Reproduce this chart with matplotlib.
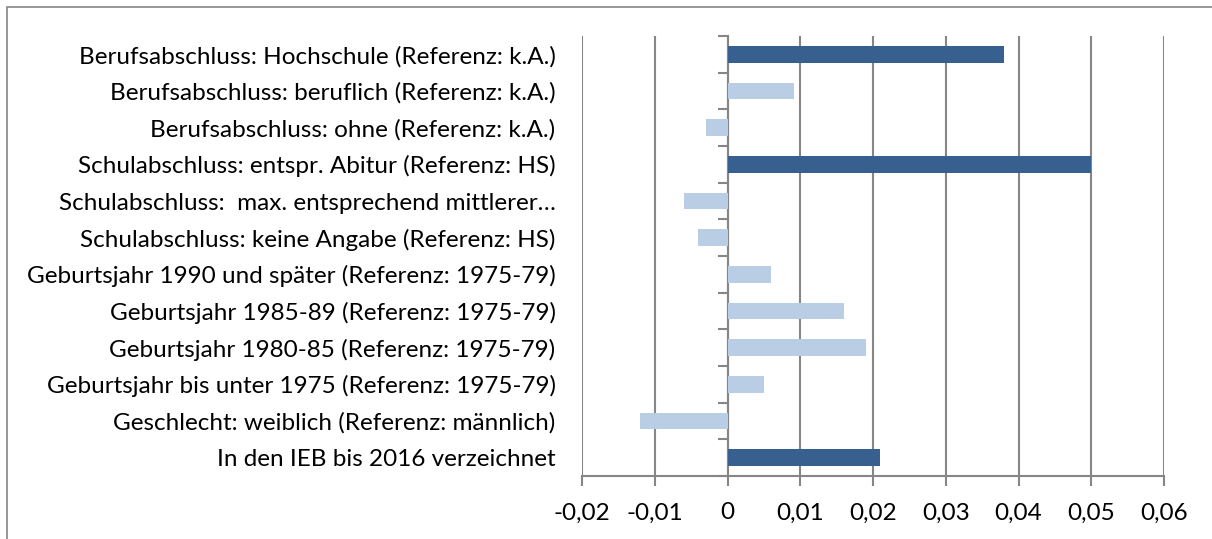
import matplotlib
matplotlib.use("Agg")
import matplotlib.pyplot as plt
from matplotlib.patches import Rectangle
from matplotlib.ticker import FixedLocator, FuncFormatter

# categories, top to bottom as in the chart
labels = [
    "Berufsabschluss: Hochschule (Referenz: k.A.)",
    "Berufsabschluss: beruflich (Referenz: k.A.)",
    "Berufsabschluss: ohne (Referenz: k.A.)",
    "Schulabschluss: entspr. Abitur (Referenz: HS)",
    "Schulabschluss:  max. entsprechend mittlerer\u2026",
    "Schulabschluss: keine Angabe (Referenz: HS)",
    "Geburtsjahr 1990 und später (Referenz: 1975-79)",
    "Geburtsjahr 1985-89 (Referenz: 1975-79)",
    "Geburtsjahr 1980-85 (Referenz: 1975-79)",
    "Geburtsjahr bis unter 1975 (Referenz: 1975-79)",
    "Geschlecht: weiblich (Referenz: männlich)",
    "In den IEB bis 2016 verzeichnet",
]
values = [0.038, 0.0091, -0.003, 0.050, -0.006, -0.004, 0.006, 0.016, 0.019, 0.005, -0.012, 0.021]
significant = [True, False, False, True, False, False, False, False, False, False, False, True]
x_ticks = [-0.02, -0.01, 0, 0.01, 0.02, 0.03, 0.04, 0.05, 0.06]

dark = "#37608F"
light = "#B9CDE5"
grey = "#868686"

plt.rcParams['font.family'] = ['Lato', 'DejaVu Sans']

fig = plt.figure(figsize=(12.12, 5.39), dpi=100)
ax = fig.add_axes([582 / 1212, 1 - 476 / 539, (1164 - 582) / 1212, (476 - 36) / 539])

n = len(labels)
ypos = list(range(n))
colors = [dark if s else light for s in significant]
ax.barh(ypos, values, height=0.45, color=colors, zorder=3)

ax.set_ylim(n - 0.5, -0.5)
ax.set_xlim(x_ticks[0], x_ticks[-1])
ax.set_yticks(ypos)
ax.set_yticklabels(labels, fontsize=17.5)
ax.tick_params(axis='y', length=0, pad=19)

ax.set_xticks(x_ticks)
ax.xaxis.set_major_formatter(FuncFormatter(lambda v, p: ("%g" % round(v, 2)).replace(".", ",")))
ax.tick_params(axis='x', length=7, width=1.5, color=grey, labelsize=17.5, pad=12)
ax.grid(axis='x', color=grey, linewidth=1.5, zorder=0)

for side in ['top', 'right', 'left']:
    ax.spines[side].set_visible(False)
ax.spines['bottom'].set_color(grey)
ax.spines['bottom'].set_linewidth(1.5)

# vertical axis crossing at zero with ticks between categories
zero_frac = (0 - x_ticks[0]) / (x_ticks[-1] - x_ticks[0])
sec = ax.secondary_yaxis(zero_frac)
sec.yaxis.set_major_locator(FixedLocator([i - 0.5 for i in range(n + 1)]))
sec.tick_params(length=7, width=1.5, color=grey, labelleft=False)
sec.spines['left'].set_color(grey)
sec.spines['left'].set_linewidth(1.5)

# outer frame of the chart area
fig.patches.append(Rectangle((7 / 1212, -0.1), 2, 1.1 - 7 / 539, transform=fig.transFigure,
                             fill=False, edgecolor=grey, linewidth=1.2))

fig.savefig("out.png", dpi=100)
